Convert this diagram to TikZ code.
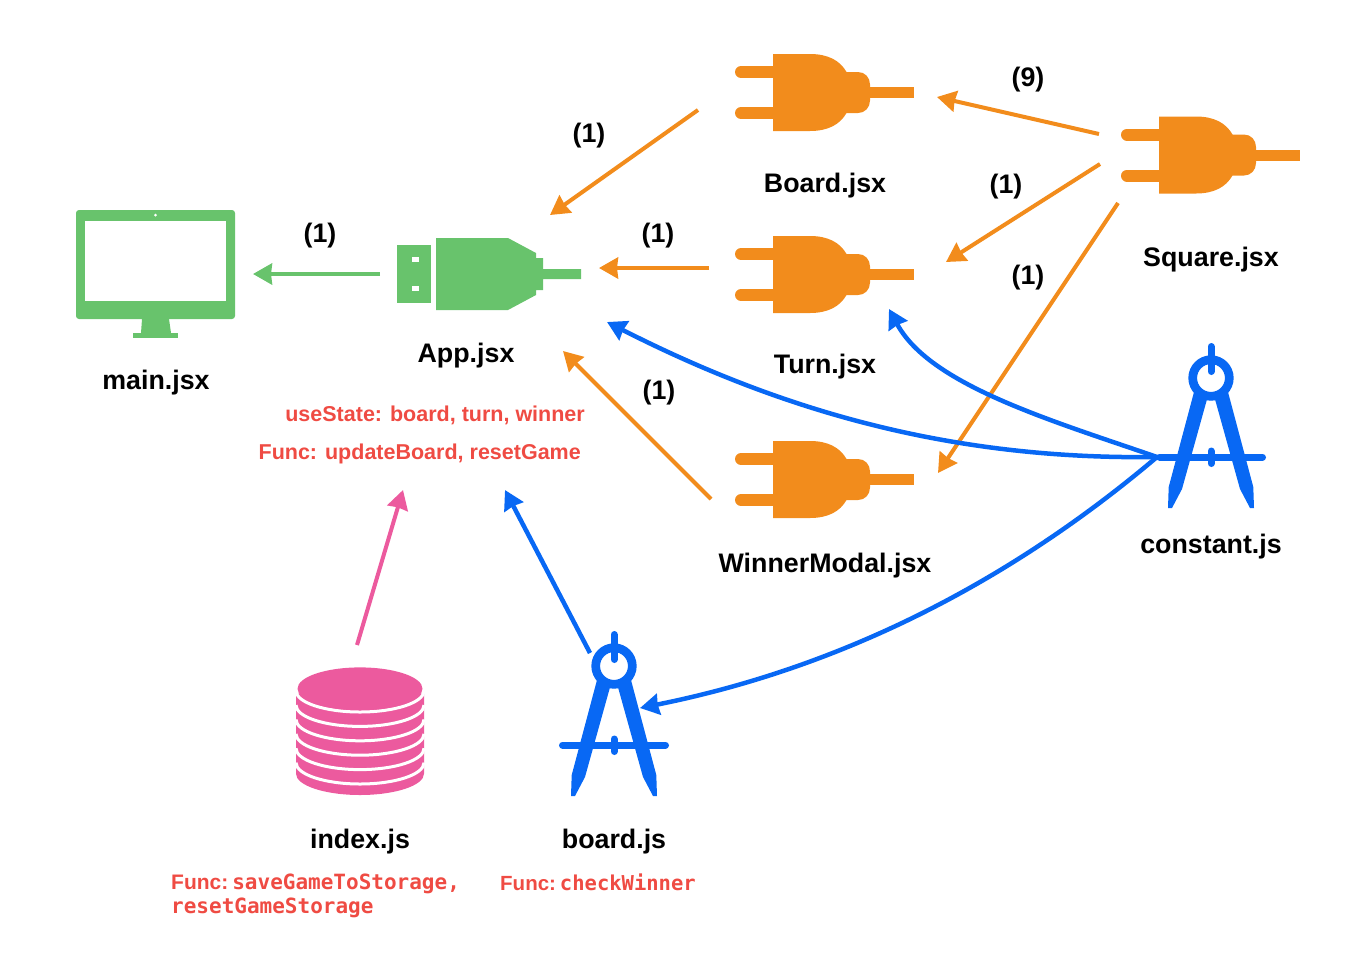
\documentclass[tikz,border=0pt]{standalone}
\usepackage{fontspec}
\setmainfont{Liberation Sans}
\newfontfamily\codefont{DejaVu Sans Mono}
\usetikzlibrary{arrows.meta}

\definecolor{usbgreen}{HTML}{68C36C}
\definecolor{plugorange}{HTML}{F28C1C}
\definecolor{toolblue}{HTML}{0868F4}
\definecolor{storepink}{HTML}{EC5A9E}
\definecolor{notered}{HTML}{EF4B43}

\tikzset{
    filelabel/.style={font=\fontsize{26.8}{30}\selectfont\bfseries, inner sep=0pt},
    countlabel/.style={font=\fontsize{26.8}{30}\selectfont\bfseries, inner sep=0pt},
    notelabel/.style={font=\fontsize{21.5}{26}\selectfont\bfseries, text=notered, inner sep=0pt},
    codelabel/.style={font=\fontsize{21}{24}\selectfont\bfseries, text=notered, inner sep=0pt, align=left},
    link/.style={-{Stealth[length=19pt,width=21pt,inset=1pt]}, line width=4pt},
    greenlink/.style={link, draw=usbgreen},
    orangelink/.style={link, draw=plugorange},
    bluelink/.style={link, draw=toolblue, line width=4.5pt},
    pinklink/.style={link, draw=storepink},
    monitor/.pic={
        \fill[usbgreen, rounded corners=3pt] (-80,-60) rectangle (79,49);
        \fill[white] (-71,-49) rectangle (70,31);
        \fill[white] (-0.5,-55) circle (1.5pt);
        \fill[usbgreen] (-14,49) -- (13,49) -- (15,63) -- (-15,63) -- cycle;
        \fill[usbgreen] (-23,63) rectangle (22,68);
    },
    usbcable/.pic={
        \fill[usbgreen] (-69,-29) rectangle (-35,29);
        \fill[white] (-54,-17) rectangle (-47,-12);
        \fill[white] (-54,12) rectangle (-47,17);
        \fill[usbgreen] (-30,-36) -- (42,-36) -- (70,-21) -- (70,-16) -- (77,-16)
            -- (77,-5) -- (115,-5) -- (115,5) -- (77,5) -- (77,16) -- (70,16)
            -- (70,21) -- (42,36) -- (-30,36) -- cycle;
    },
    plug/.pic={
        \draw[plugorange, line width=12pt, line cap=round] (-84,-20.5) -- (-52,-20.5);
        \draw[plugorange, line width=12pt, line cap=round] (-84,20.5) -- (-52,20.5);
        \fill[plugorange] (-52,-38.5) -- (-15,-38.5)
            .. controls (3,-38.5) and (15,-32) .. (21.5,-20.5) -- (33,-20.5)
            .. controls (40,-20.5) and (45,-15) .. (45,-8) -- (45,8)
            .. controls (45,15) and (40,20.5) .. (33,20.5) -- (21.5,20.5)
            .. controls (15,32) and (3,38.5) .. (-15,38.5) -- (-52,38.5) -- cycle;
        \fill[plugorange] (45,-5.5) rectangle (89,5.5);
    },
    compass/.pic={
        \draw[toolblue, line width=8.7pt] (0,0) circle (18.3pt);
        \draw[toolblue, line width=7pt, line cap=round] (0,-31.5) -- (0,-6.5);
        \fill[toolblue] (-17,14) -- (-42.3,109) -- (-43,130) -- (-39,130) -- (-29,111) -- (-4.2,22) -- (0,22) -- (0,14) -- cycle;
        \fill[toolblue] (17,14) -- (42.3,109) -- (43,130) -- (39,130) -- (29,111) -- (4.2,22) -- (0,22) -- (0,14) -- cycle;
        \draw[toolblue, line width=7pt, line cap=round] (-51.5,79) -- (51.5,79);
        \draw[toolblue, line width=7pt, line cap=round] (0,73) -- (0,85.5);
    },
    database/.pic={
        \fill[storepink] (-64,5) -- (-64,85) .. controls (-64,96.8) and (-35.3,106.3) .. (0,106.3)
            .. controls (35.3,106.3) and (64,96.8) .. (64,85) -- (64,5) -- cycle;
        \foreach \cy in {2,16.4,30.8,45.2,59.6,74} {
            \draw[white, line width=3pt] (-64,\cy) .. controls (-64,\cy+11.8) and (-35.3,\cy+21.3) .. (0,\cy+21.3)
                .. controls (35.3,\cy+21.3) and (64,\cy+11.8) .. (64,\cy);
        }
        \fill[storepink] (0,0) ellipse [x radius=62.5pt, y radius=21.3pt];
    }
}

\begin{document}
\begin{tikzpicture}[x=1pt, y=-1pt]
    \useasboundingbox (0, 0) rectangle (1366, 962);

    \pic at (156, 270) {monitor};
    \pic at (466, 274) {usbcable};
    \pic at (825, 92.5) {plug};
    \pic at (825, 274.5) {plug};
    \pic at (825, 479.5) {plug};
    \pic at (1211, 155) {plug};
    \pic at (1211, 378) {compass};
    \pic at (614, 666) {compass};
    \pic at (360, 688.7) {database};

    \node[filelabel] (mainLabel) at (156, 383) {main.jsx};
    \node[filelabel] (appLabel) at (466, 356) {App.jsx};
    \node[filelabel] (boardLabel) at (825, 186) {Board.jsx};
    \node[filelabel] (turnLabel) at (825, 367) {Turn.jsx};
    \node[filelabel] (winnerLabel) at (825, 566) {WinnerModal.jsx};
    \node[filelabel] (squareLabel) at (1211, 260) {Square.jsx};
    \node[filelabel] (constantLabel) at (1211, 547) {constant.js};
    \node[filelabel] (indexLabel) at (360, 842) {index.js};
    \node[filelabel] (boardjsLabel) at (614, 842) {board.js};

    \node[notelabel, anchor=east] (stateNote) at (585, 415) {useState: board, turn, winner};
    \node[notelabel, anchor=east] (funcNote) at (581, 453.5) {Func: updateBoard, resetGame};
    \node[codelabel, anchor=north west] (indexNote) at (171, 874) {Func:\hspace{4pt}{\codefont saveGameToStorage,}\\[0pt]{\codefont resetGameStorage}};
    \node[codelabel, anchor=west, font=\fontsize{20.5}{24}\selectfont\bfseries] (boardNote) at (500, 882) {Func:\hspace{4pt}{\codefont checkWinner}};

    \node[countlabel] (countMain) at (320, 236) {(1)};
    \node[countlabel] (countBoard) at (589, 136) {(1)};
    \node[countlabel] (countTurn) at (658, 236) {(1)};
    \node[countlabel] (countWinner) at (659, 393) {(1)};
    \node[countlabel] (countSqBoard) at (1028, 80) {(9)};
    \node[countlabel] (countSqTurn) at (1006, 187) {(1)};
    \node[countlabel] (countSqWinner) at (1028, 278) {(1)};

    \coordinate (mainIn) at (253, 274);
    \coordinate (appOut) at (380, 274);
    \coordinate (appInBoard) at (550, 215);
    \coordinate (appInTurn) at (599, 268);
    \coordinate (appInWinner) at (563, 351);
    \coordinate (appInConst) at (607, 322);
    \coordinate (appInBoardjs) at (505, 490);
    \coordinate (appInIndex) at (403, 490);
    \coordinate (boardOut) at (698, 110);
    \coordinate (boardIn) at (937, 97);
    \coordinate (turnOut) at (709, 268);
    \coordinate (turnIn) at (946, 262);
    \coordinate (turnInConst) at (889, 309);
    \coordinate (winnerOut) at (711, 499);
    \coordinate (winnerIn) at (938, 473);
    \coordinate (squareOutA) at (1099, 134);
    \coordinate (squareOutB) at (1100, 164);
    \coordinate (squareOutC) at (1118, 203);
    \coordinate (constOut) at (1157, 457);
    \coordinate (boardjsOut) at (590, 653);
    \coordinate (boardjsIn) at (640, 708);
    \coordinate (indexOut) at (357, 645);

    \draw[greenlink] (appOut) -- (mainIn);
    \draw[orangelink] (boardOut) -- (appInBoard);
    \draw[orangelink] (turnOut) -- (appInTurn);
    \draw[orangelink] (winnerOut) -- (appInWinner);
    \draw[orangelink] (squareOutA) -- (boardIn);
    \draw[orangelink] (squareOutB) -- (turnIn);
    \draw[orangelink] (squareOutC) -- (winnerIn);
    \draw[bluelink] (constOut) .. controls (950, 460) and (780, 410) .. (appInConst);
    \draw[bluelink] (constOut) .. controls (1050, 420) and (930, 385) .. (turnInConst);
    \draw[bluelink] (constOut) .. controls (1000, 590) and (830, 670) .. (boardjsIn);
    \draw[bluelink] (boardjsOut) -- (appInBoardjs);
    \draw[pinklink] (indexOut) -- (appInIndex);
\end{tikzpicture}
\end{document}
